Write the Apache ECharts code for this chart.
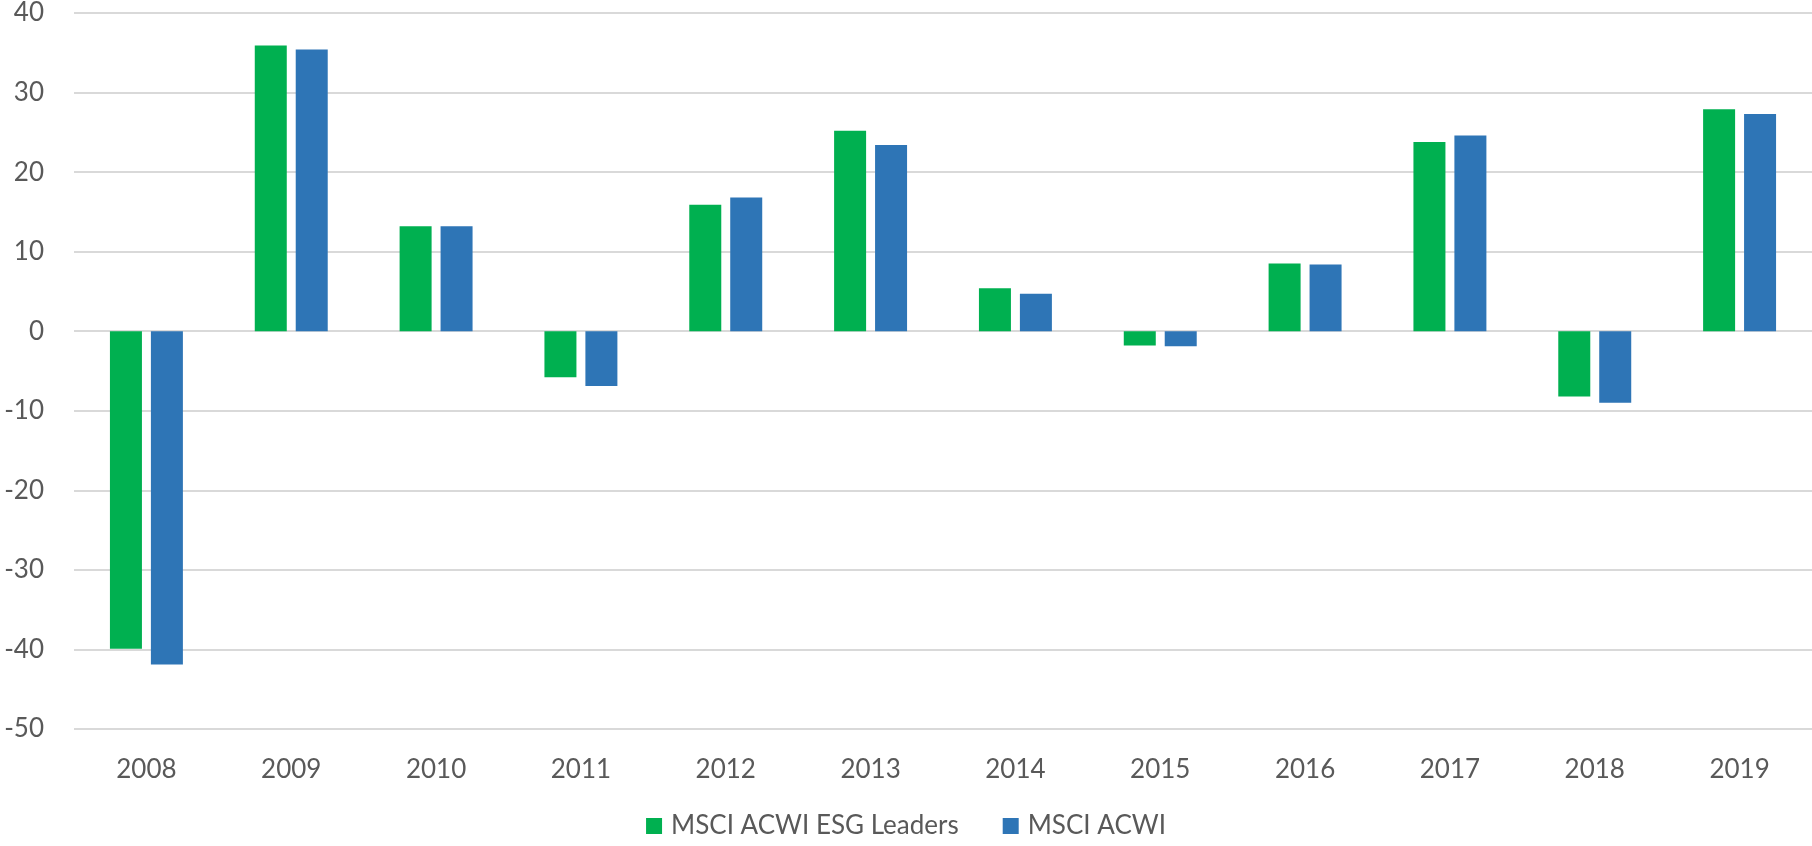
<!DOCTYPE html>
<html>
<head>
    <meta charset="UTF-8">
    <title>MSCI ACWI ESG Leaders vs MSCI ACWI</title>
    <script type="text/javascript" src="https://cdn.jsdelivr.net/npm/echarts@6/dist/echarts.min.js"></script>
    <style>
        html, body { margin: 0; padding: 0; background: #fff; }
        #main { width: 1812px; height: 846px; }
    </style>
</head>
<body>
    <div id="main"></div>
    <script type="text/javascript">
        // annual returns (%)
        var years = ['2008', '2009', '2010', '2011', '2012', '2013', '2014', '2015', '2016', '2017', '2018', '2019'];
        var esgLeaders = [-39.9, 35.9, 13.2, -5.8, 15.9, 25.2, 5.4, -1.8, 8.5, 23.8, -8.2, 27.9];
        var acwi = [-41.9, 35.4, 13.2, -6.9, 16.8, 23.4, 4.7, -1.9, 8.4, 24.6, -9.0, 27.3];
        var seriesNames = ['MSCI ACWI ESG Leaders', 'MSCI ACWI'];

        var font = 'Lato, "Noto Sans", sans-serif';
        var myChart = echarts.init(document.getElementById('main'));

        myChart.setOption({
            animation: false,
            color: ['#00B050', '#2E75B6'],
            grid: {
                left: 74,
                right: 0,
                top: 12,
                bottom: 117
            },
            legend: {
                data: seriesNames,
                bottom: 2,
                left: 'center',
                icon: 'rect',
                itemWidth: 16,
                itemHeight: 16,
                itemGap: 44,
                textStyle: {
                    fontFamily: font,
                    fontSize: 26,
                    color: '#595959',
                    padding: [0, 0, 0, 4]
                }
            },
            xAxis: {
                type: 'category',
                data: years,
                axisLine: { show: false, onZero: false },
                axisTick: { show: false },
                axisLabel: {
                    margin: 28,
                    fontFamily: font,
                    fontSize: 26,
                    color: '#595959'
                }
            },
            yAxis: {
                type: 'value',
                min: -50,
                max: 40,
                interval: 10,
                axisLine: { show: false },
                axisTick: { show: false },
                splitLine: {
                    lineStyle: { color: '#D9D9D9', width: 2 }
                },
                axisLabel: {
                    margin: 30,
                    fontFamily: font,
                    fontSize: 26,
                    color: '#595959'
                }
            },
            series: [
                {
                    name: seriesNames[0],
                    type: 'bar',
                    data: esgLeaders,
                    barWidth: 32,
                    barGap: '28%'
                },
                {
                    name: seriesNames[1],
                    type: 'bar',
                    data: acwi,
                    barWidth: 32,
                    barGap: '28%'
                }
            ]
        });
    </script>
</body>
</html>
